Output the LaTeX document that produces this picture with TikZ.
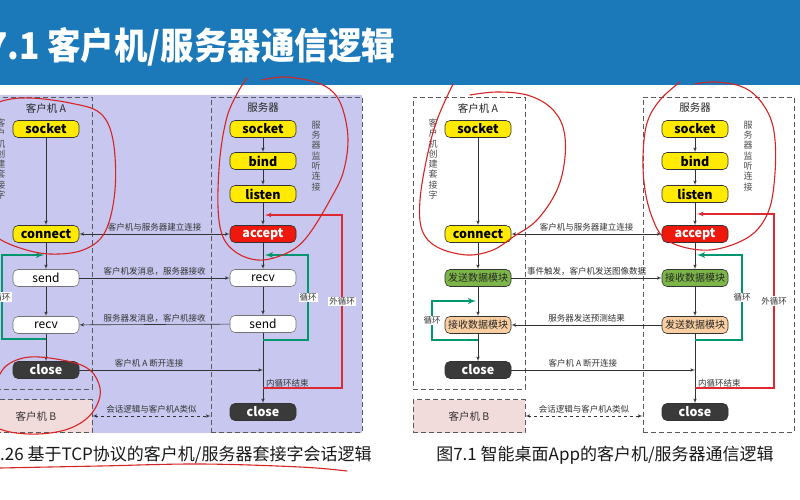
\documentclass[tikz,border=0pt]{standalone}
\usepackage{fontspec}
\setmainfont{Noto Sans CJK SC}
\usepackage{tikz}
\usetikzlibrary{arrows,positioning,calc}

\definecolor{titleblue}{RGB}{27,121,186}
\definecolor{lavender}{RGB}{199,199,239}
\definecolor{boxyellow}{RGB}{255,234,0}
\definecolor{boxred}{RGB}{238,24,12}
\definecolor{boxdark}{RGB}{58,58,58}
\definecolor{boxgreen}{RGB}{124,182,72}
\definecolor{boxorange}{RGB}{250,206,160}
\definecolor{boxpink}{RGB}{242,220,219}
\definecolor{loopgreen}{RGB}{0,150,110}
\definecolor{loopred}{RGB}{222,40,50}
\definecolor{penred}{RGB}{214,36,36}
\definecolor{linegray}{RGB}{50,50,50}

\begin{document}
\begin{tikzpicture}[
    x=1pt, y=-1pt,
    >=latex',
    font=\fontsize{8.5}{10}\selectfont,
    box/.style={
		rectangle,
		rounded corners=5pt,
		draw=linegray,
		line width=0.6pt,
		minimum width=66pt,
		minimum height=17pt,
		inner sep=0pt,
		text centered,
		font=\fontsize{12.5}{14}\selectfont\bfseries
	},
	yellowbox/.style={box, fill=boxyellow},
	redbox/.style={box, fill=boxred, text=white},
	darkbox/.style={box, fill=boxdark, text=white},
	whitebox/.style={box, fill=white, draw=black!55, font=\fontsize{12}{14}\selectfont},
	greenbox/.style={box, fill=boxgreen, text=black!85, font=\fontsize{10}{12}\selectfont},
	orangebox/.style={box, fill=boxorange, text=black!85, font=\fontsize{10}{12}\selectfont},
	frame/.style={
		rectangle,
		draw=black!65,
		dash pattern=on 5pt off 3pt,
		line width=0.9pt,
		inner sep=0pt
	},
	clientb/.style={frame, fill=boxpink, minimum width=112pt, minimum height=33pt, font=\fontsize{10.5}{12}\selectfont, text=black!80},
	head/.style={font=\fontsize{10.5}{12}\selectfont, text=black!85},
	msg/.style={font=\fontsize{8.5}{10}\selectfont, text=black!80, inner sep=1pt},
	vert/.style={align=center, font=\fontsize{9}{10.3}\selectfont, text=black!70, inner sep=0pt},
	conn/.style={draw=linegray, line width=0.6pt, ->},
	greenloop/.style={draw=loopgreen, line width=1.7pt, ->},
	redloop/.style={draw=loopred, line width=1.2pt, ->},
	looplabel/.style={fill=white, font=\fontsize{8.5}{10}\selectfont, text=black!80, inner sep=1pt},
	caption/.style={font=\fontsize{17}{20}\selectfont, text=black!90, inner sep=0pt},
	pen/.style={draw=penred, line width=1.1pt, line cap=round, line join=round}
  ]
  \useasboundingbox (0,0) rectangle (800,500);
  \clip (0,0) rectangle (800,500);
  \fill[white] (0,0) rectangle (800,500);

  % title bar
  \fill[titleblue] (0,0) rectangle (800,85);
  \node [anchor=west, inner sep=0pt, text=white, font=\fontsize{33.5}{38}\selectfont\bfseries] (title) at (-13,47) {\scalebox{1}[1.1]{7.1 客户机/服务器通信逻辑}};

  % ---------------- left figure ----------------
  \fill[lavender] (0,95) rectangle (362,433);

  \node [frame, minimum width=112pt, minimum height=292pt] (lcframe) at (36,243) {};
  \node [frame, minimum width=151pt, minimum height=335pt] (lsframe) at (286.5,264.5) {};
  \node [clientb] (lB) at (36,416) {客户机 B};

  \node [head] (lchead) at (46,108) {客户机 A};
  \node [head] (lshead) at (263,108) {服务器};
  \node [vert] (lcvert) at (1,159) {客\\户\\机\\创\\建\\套\\接\\字};
  \node [vert] (lsvert) at (316,156) {服\\务\\器\\监\\听\\连\\接};

  % client blocks
  \node [yellowbox] (lcsock) at (46,129) {socket};
  \node [yellowbox] (lcconn) at (46,234) {connect};
  \node [whitebox] (lcsend) at (46,278) {send};
  \node [whitebox] (lcrecv) at (46,325) {recv};
  \node [darkbox] (lcclose) at (46,370) {close};

  % server blocks
  \node [yellowbox] (lssock) at (263,129) {socket};
  \node [yellowbox] (lsbind) at (263,161) {bind};
  \node [yellowbox] (lslist) at (263,194) {listen};
  \node [redbox] (lsacc) at (263,234) {accept};
  \node [whitebox] (lsrecv) at (263,278) {recv};
  \node [whitebox] (lssend) at (263,324) {send};
  \node [darkbox] (lsclose) at (263,412) {close};

  \draw [conn] (lcsock) -- (lcconn);
  \draw [conn] (lcconn) -- (lcsend);
  \draw [conn] (lcsend) -- (lcrecv);
  \draw [conn] (lcrecv) -- (lcclose);
  \draw [conn] (lssock) -- (lsbind);
  \draw [conn] (lsbind) -- (lslist);
  \draw [conn] (lslist) -- (lsacc);
  \draw [conn] (lsacc) -- (lsrecv);
  \draw [conn] (lsrecv) -- (lssend);
  \draw [conn] (lssend) -- (lsclose);

  \coordinate (lsbreak) at (263,370);
  \draw [conn,<->] (lcconn) -- node [msg, above=1pt] {客户机与服务器建立连接} (lsacc);
  \draw [conn] (lcsend) -- node [msg, above=1pt] {客户机发消息，服务器接收} (lsrecv);
  \draw [conn] (lssend) -- node [msg, above=1pt] {服务器发消息，客户机接收} (lcrecv);
  \draw [conn] (lcclose) -- node [msg, above=1pt, pos=0.38] {客户机 A 断开连接} (lsbreak);
  \draw [conn,<->,dashed] (lB) -- node [msg, above=1pt] {会话逻辑与客户机A类似} (lB -| lsframe.west);

  % loops
  \coordinate (lcgreen) at (46,339);
  \coordinate (lcgreentop) at (44,255);
  \draw [greenloop] (lcgreen) -- ++(-44,0) |- node [looplabel, pos=0.25] {循环} (lcgreentop);
  \coordinate (lsgreen) at (263,340);
  \coordinate (lsgreentop) at (265,255);
  \draw [greenloop] (lsgreen) -- ++(45,0) |- node [looplabel, pos=0.25] {循环} (lsgreentop);
  \coordinate (lsred) at (263,388);
  \coordinate (lsredtop) at (265,215);
  \draw [redloop] (lsred) -- ++(79,0) |- node [looplabel, pos=0.25] {外循环} (lsredtop);
  \node [msg, anchor=south west] (lsinner) at (265,388) {内循环结束};

  \node [caption, anchor=west] (lcap) at (0,455) {.26 基于TCP协议的客户机/服务器套接字会话逻辑};

  % ---------------- right figure ----------------
  \node [frame, minimum width=112pt, minimum height=292pt] (rcframe) at (469,243) {};
  \node [frame, minimum width=151pt, minimum height=335pt] (rsframe) at (718.5,264.5) {};
  \node [clientb] (rB) at (469,416) {客户机 B};

  \node [head] (rchead) at (478,108) {客户机 A};
  \node [head] (rshead) at (695,108) {服务器};
  \node [vert] (rcvert) at (433,159) {客\\户\\机\\创\\建\\套\\接\\字};
  \node [vert] (rsvert) at (748,156) {服\\务\\器\\监\\听\\连\\接};

  \node [yellowbox] (rcsock) at (478,129) {socket};
  \node [yellowbox] (rcconn) at (478,234) {connect};
  \node [greenbox] (rcsend) at (478,278) {发送数据模块};
  \node [orangebox] (rcrecv) at (478,325) {接收数据模块};
  \node [darkbox] (rcclose) at (478,370) {close};

  \node [yellowbox] (rssock) at (695,129) {socket};
  \node [yellowbox] (rsbind) at (695,161) {bind};
  \node [yellowbox] (rslist) at (695,194) {listen};
  \node [redbox] (rsacc) at (695,234) {accept};
  \node [greenbox] (rsrecv) at (695,278) {接收数据模块};
  \node [orangebox] (rssend) at (695,325) {发送数据模块};
  \node [darkbox] (rsclose) at (695,412) {close};

  \draw [conn] (rcsock) -- (rcconn);
  \draw [conn] (rcconn) -- (rcsend);
  \draw [conn] (rcsend) -- (rcrecv);
  \draw [conn] (rcrecv) -- (rcclose);
  \draw [conn] (rssock) -- (rsbind);
  \draw [conn] (rsbind) -- (rslist);
  \draw [conn] (rslist) -- (rsacc);
  \draw [conn] (rsacc) -- (rsrecv);
  \draw [conn] (rsrecv) -- (rssend);
  \draw [conn] (rssend) -- (rsclose);

  \coordinate (rsbreak) at (695,370);
  \draw [conn,<->] (rcconn) -- node [msg, above=1pt] {客户机与服务器建立连接} (rsacc);
  \draw [conn] (rcsend) -- node [msg, above=1pt] {事件触发，客户机发送图像数据} (rsrecv);
  \draw [conn] (rssend) -- node [msg, above=1pt] {服务器发送预测结果} (rcrecv);
  \draw [conn] (rcclose) -- node [msg, above=1pt, pos=0.39] {客户机 A 断开连接} (rsbreak);
  \draw [conn,<->,dashed] (rB) -- node [msg, above=1pt] {会话逻辑与客户机A类似} (rB -| rsframe.west);

  \coordinate (rcgreen) at (478,340);
  \coordinate (rcgreentop) at (476,301);
  \draw [greenloop] (rcgreen) -- ++(-46,0) |- node [looplabel, pos=0.25] {循环} (rcgreentop);
  \coordinate (rsgreen) at (695,340);
  \coordinate (rsgreentop) at (697,255);
  \draw [greenloop] (rsgreen) -- ++(47,0) |- node [looplabel, pos=0.25] {循环} (rsgreentop);
  \coordinate (rsred) at (695,388);
  \coordinate (rsredtop) at (697,214);
  \draw [redloop] (rsred) -- ++(79,0) |- node [looplabel, pos=0.25] {外循环} (rsredtop);
  \node [msg, anchor=south west] (rsinner) at (697,388) {内循环结束};

  \node [caption] (rcap) at (605,455) {图7.1 智能桌面App的客户机/服务器通信逻辑};

  % hand-drawn red marks
  \draw [pen] plot [smooth, tension=0.6] coordinates {(-20,112) (2,101) (30,98) (70,103) (100,113) (113,140) (115,190) (105,232) (83,250) (50,254) (20,248) (-5,236) (-25,215)};
  \draw [pen] plot [smooth, tension=0.6] coordinates {(247,78) (238,92) (227,117) (220,157) (218,207) (223,237) (237,253) (257,260) (277,257) (297,247) (312,230) (330,200) (343,173) (348,140) (343,110) (333,92) (315,82) (285,77) (262,80)};
  \draw [pen] plot [smooth, tension=0.6] coordinates {(-5,385) (6,366) (30,357) (67,361) (90,370) (100,388) (97,405) (85,420) (65,430) (38,434) (10,432) (-10,425)};
  \draw [pen] plot [smooth, tension=0.6] coordinates {(0,468) (100,466) (200,464) (300,467) (347,471)};
  \draw [pen] plot [smooth, tension=0.6] coordinates {(453,84) (437,120) (427,157) (420,200) (422,230) (437,247) (467,255) (493,250) (513,237) (537,220) (557,190) (565,157) (563,127) (550,107) (527,95) (497,92) (470,95)};
  \draw [pen] plot [smooth, tension=0.6] coordinates {(680,82) (660,100) (647,123) (643,157) (645,190) (652,217) (663,237) (683,247) (710,250) (737,243) (757,230) (770,207) (775,173) (775,140) (770,117) (757,97) (740,86) (715,82) (695,84)};
\end{tikzpicture}
\end{document}
